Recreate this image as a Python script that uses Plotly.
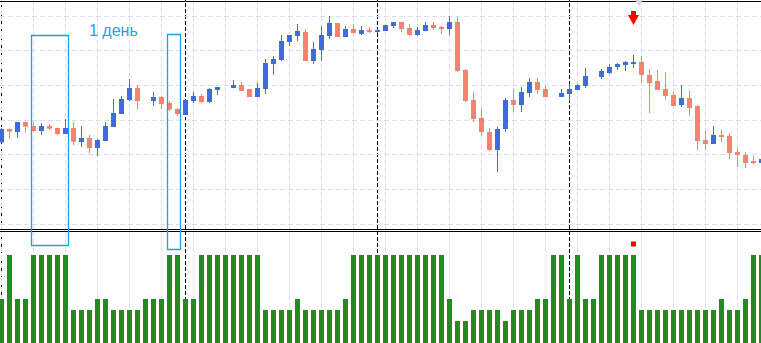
import plotly.graph_objects as go

# ---------------- data ----------------
# hourly candles (arbitrary price units); None = no candle drawn
open_ = [87.5, 101, 98, 108, 104, 99, 104, 102, 96, 102, 88, 92, 82, 89, 103, 116, 130, 142, None, 129,
         133, 127, 121, 115, 129, 134, 128, 140, None, 142, 145, 141, 133, 141, 166, 170, 188, 194, 198, 169,
         180, 194, 207, 193, 201, 196, 200, 198, 199, 204, 208, 202, 195, 199, 205, 203, 201, 208, 160, 130,
         112, 98, 80, 101, 130, 125, 137, 148, 141, None, 133, 136, 140, 144, None, 153, 157, 163, 165, 166,
         168, 155, 149, 141, 135, 125, 132, 124, 90, 86, 95, 94, 78, 75, 69, 67]
high = [102, 101.5, 108, 108.5, 108, 107, 106, 102.5, 111, 108, 104, 95, 91, 108, 131, 134, 151, 145, None, 138,
        134, 129, 122, 130, 138, 136, 142, 143, None, 150, 148, 141, 147, 171, 174, 195, 195, 206, 201, 188,
        204, 214, 207, 204, 206, 204, 203, 201, 205, 208, 208, 206, 203, 208, 208, 204, 214, 213, 161, 138,
        121, 102, 103, 132, 141, 143, 152, 152, 144, None, 141, 146, 146, 162, None, 161, 166, 167, 169, 175,
        174, 161, 160, 158, 139, 145, 139, 125, 99, 104, 100, 97, 81, 78, 74, 71]
low = [87, 91, 92.3, 97.3, 98.3, 95, 100, 95, 96, 85, 83, 77, 74, 89, 103, 116, 129, 121, None, 124,
       121, 119, 114, 115, 127, 127, 127, 135, None, 142, 139, 133, 133, 136, 155, 169, 184, 189, 169, 166,
       169, 191, 193, 193, 196, 195, 197, 197, 199, 202, 198, 194, 194, 199, 200, 196, 195, 158, 128, 108,
       94, 79, 58, 98, 118, 118, 133, 136, 133, None, 133, 129, 140, 142, None, 151, 156, 160, 159, 162,
       147, 117, 140, 130, 124, 123, 114, 80, 80, 86, 88, 71, 63, 62, 66, 67]
close = [101, 98.5, 108, 103.3, 99, 104, 101.3, 96, 102, 88.3, 92, 82, 90, 104, 117, 131, 142, 129, None, 133,
         126, 120.5, 116, 130, 134, 128, 141, 143, None, 145, 139, 133, 142, 167, 171, 189, 195, 199, 169, 181,
         195, 207, 193, 201, 197, 200, 198, 200, 205, 208, 201, 195, 200, 205, 202, 201, 208, 159, 129, 111,
         98, 80, 101, 130, 125, 138, 148, 140, 133, None, 137, 141, 145, 154, None, 159, 163, 166, 168, 168,
         155, 147, 140, 134, 124, 132, 122, 89, 86, 95, 93, 77, 75, 67, 67, 71]

# indicator histogram levels
levels = [2, 4, 2, 2, 4, 4, 4, 4, 4, 1.5, 1.5, 1.5, 2, 2, 1.5, 1.5, 1.5, 1.5, 2, 2,
          2, 4, 4, 2, 2, 4, 4, 4, 4, 4, 4, 4, 4, 1.5, 1.5, 1.5, 1.5, 2, 1.5, 1.5,
          1.5, 1.5, 1.5, 2, 4, 4, 4, 4, 4, 4, 4, 4, 4, 4, 4, 4, 2, 1, 1, 1.5,
          1.5, 1.5, 1.5, 1, 1.5, 1.5, 1.5, 2, 2, 4, 4, 2, 4, 2, 2, 4, 4, 4, 4, 4,
          1.5, 1.5, 1.5, 1.5, 1.5, 1.5, 1.5, 1.5, 1.5, 1.5, 2, 1.5, 1.5, 2, 4, 4]

day_separators = [0, 23, 47, 71]
highlight_boxes = [(4, 8), (21, 22)]
signal_bar = 79
signal_price = 212
signal_level = 4.5
label_text = "1 день"

# ---------------- styles ----------------
BULL = "#4169E1"
BEAR = "#FA8072"
GREEN = "#228B22"
GRID = "#dedcf2"
BOXC = "#1aa0e4"
BODY_W = 0.625
WICK_W = 0.125
W, H = 761, 343
X_RANGE = [-1.5 / 8, (W - 1.5) / 8]

idx = [i for i in range(len(open_)) if open_[i] is not None]
cols = [BULL if close[i] >= open_[i] else BEAR for i in idx]

fig = go.Figure()
fig.add_trace(go.Bar(
    x=idx, y=[high[i] - low[i] for i in idx], base=[low[i] for i in idx],
    width=WICK_W, marker=dict(color=cols, line=dict(width=0)), xaxis="x", yaxis="y",
    hoverinfo="skip", showlegend=False))
fig.add_trace(go.Bar(
    x=idx, y=[max(abs(close[i] - open_[i]), 0.6) for i in idx],
    base=[min(open_[i], close[i]) for i in idx],
    width=BODY_W, marker=dict(color=cols, line=dict(width=0)), xaxis="x", yaxis="y",
    showlegend=False))
fig.add_trace(go.Bar(
    x=list(range(len(levels))), y=levels, width=BODY_W,
    marker=dict(color=GREEN, line=dict(width=0)), xaxis="x2", yaxis="y2", showlegend=False))
fig.add_trace(go.Scatter(
    x=[signal_bar], y=[signal_level], mode="markers",
    marker=dict(symbol="square", size=5, color="#ff0000", line=dict(width=0)),
    xaxis="x2", yaxis="y2", showlegend=False))

shapes = []
for s in day_separators:
    shapes.append(dict(type="line", xref="x", yref="paper", x0=s, x1=s, y0=0, y1=1,
                       line=dict(color="black", width=1, dash="4px,2px"), layer="below"))
# pane borders
for py in (1.5, 229.5, 231.5):
    shapes.append(dict(type="line", xref="paper", yref="paper", x0=0, x1=1,
                       y0=(H - py) / H, y1=(H - py) / H, line=dict(color="black", width=1)))
# highlight boxes
box_tops = [35.5, 34.5]
box_bottoms = [245.5, 249.5]
for (a, b), t, bt in zip(highlight_boxes, box_tops, box_bottoms):
    shapes.append(dict(type="rect", xref="x", yref="paper",
                       x0=a - 0.25, x1=b + 0.375, y0=(H - bt) / H, y1=(H - t) / H,
                       line=dict(color=BOXC, width=1.3), fillcolor="rgba(0,0,0,0)"))
# signal arrow
shapes.append(dict(type="path", xref="x", yref="y", xsizemode="pixel", ysizemode="pixel",
                   xanchor=signal_bar, yanchor=signal_price,
                   path="M -2.5,7 L 2.5,7 L 2.5,3 L 5.5,3 L 0,-7 L -5.5,3 L -2.5,3 Z",
                   fillcolor="#ff0000", line=dict(width=0)))
# chart shift marker
shapes.append(dict(type="path", xref="x", yref="paper", xsizemode="pixel", ysizemode="pixel",
                   xanchor=signal_bar + 0.69, yanchor=1,
                   path="M -4,0 L 4,0 L 0,-6 Z", fillcolor="#d4d4e6", line=dict(width=0)))

axis_common = dict(showticklabels=False, ticks="", zeroline=False, showline=False, fixedrange=True)
fig.update_layout(
    width=W, height=H, margin=dict(l=0, r=0, t=0, b=0),
    paper_bgcolor="white", plot_bgcolor="white", barmode="overlay",
    showlegend=False,
    xaxis=dict(domain=[0, 1], anchor="y", range=X_RANGE, showgrid=True, gridcolor=GRID,
               griddash="5px,3px", gridwidth=1, tick0=0, dtick=4, **axis_common),
    xaxis2=dict(domain=[0, 1], anchor="y2", range=X_RANGE, matches="x", showgrid=True,
                gridcolor=GRID, griddash="5px,3px", gridwidth=1, tick0=0, dtick=4, **axis_common),
    yaxis=dict(domain=[114 / H, 1], anchor="x", range=[1, 230], showgrid=True, gridcolor=GRID,
               griddash="5px,3px", gridwidth=1, tick0=6, dtick=104 / 3, **axis_common),
    yaxis2=dict(domain=[0, 112 / H], anchor="x2", range=[0, 112 / 22], showgrid=False,
                **axis_common),
    shapes=shapes,
    annotations=[dict(text=label_text, x=14, y=200, xref="x", yref="y", showarrow=False,
                      xanchor="center", yanchor="middle",
                      font=dict(family="Liberation Sans, Arial", size=16, color="#27a2e4"))],
)
fig.write_html("out.html")
